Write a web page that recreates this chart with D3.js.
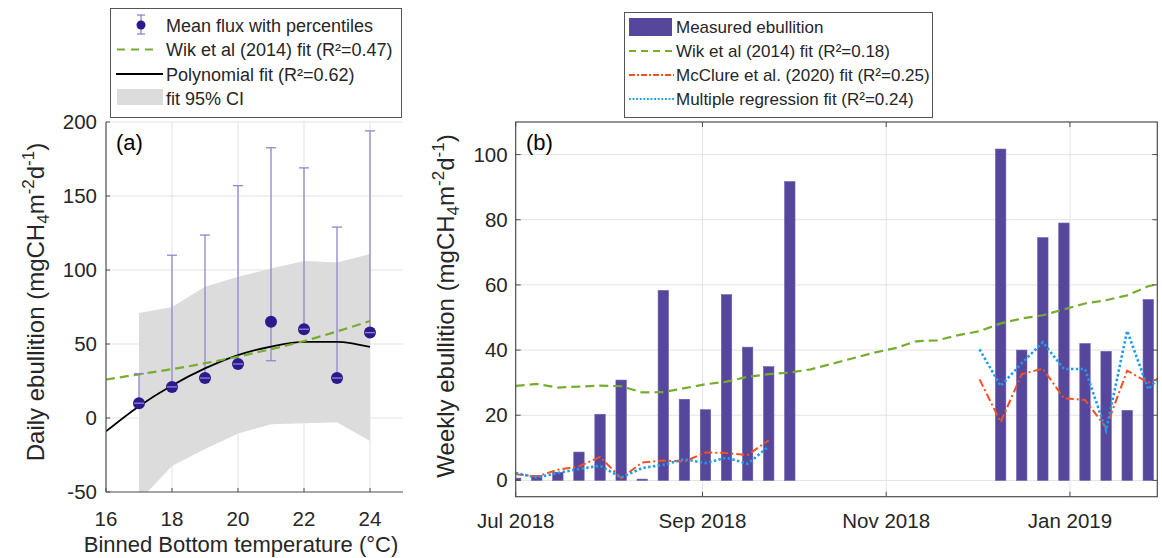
<!DOCTYPE html>
<html><head><meta charset="utf-8">
<script src="https://cdn.jsdelivr.net/npm/d3@7/dist/d3.min.js"></script>
<style>
body{margin:0;background:#fff;}
svg{display:block;font-family:"Liberation Sans",Arial,sans-serif;}
</style></head>
<body><svg id="c" width="1162" height="558"></svg>
<script>
// ---------- Panel (a) data ----------
const tempBins = [17, 18, 19, 20, 21, 22, 23, 24];
const meanFlux = [10, 21, 27, 36.5, 65, 60, 27, 57.7];
const pctLow   = [10, 21, 27, 36.5, 38.7, 60, 27, 57.7];
const pctHigh  = [30, 110, 123.6, 157, 182.6, 169, 129, 194];
const ciUpper  = [71, 75, 88.7, 95.5, 101, 106, 105, 110.8];
const ciLower  = [-56, -32.5, -21, -10.4, -4.3, -3.6, -2.9, -15.6];
const fitTemps = [16, 17, 18, 19, 20, 21, 22, 23, 24];
const polyFit  = [-9, 8, 22, 33.5, 42.5, 48.3, 51.5, 51.5, 48];
const wikFitA  = [26, 29.5, 33, 37, 41.5, 46.5, 52, 58.5, 65.5];
const xTicksA  = [16, 18, 20, 22, 24];
const yTicksA  = [-50, 0, 50, 100, 150, 200];

// ---------- Panel (b) data ----------
const barDates = ["2018-07-01","2018-07-08","2018-07-15","2018-07-22","2018-07-29","2018-08-05","2018-08-12",
  "2018-08-19","2018-08-26","2018-09-02","2018-09-09","2018-09-16","2018-09-23","2018-09-30",
  "2018-12-09","2018-12-16","2018-12-23","2018-12-30","2019-01-06","2019-01-13","2019-01-20","2019-01-27"];
const barValues = [0.7, 1.5, 2.5, 8.7, 20.3, 30.8, 0.4, 58.3, 24.9, 21.7, 57, 40.9, 34.9, 91.7,
  101.7, 40, 74.5, 79, 42, 39.6, 21.5, 55.5];
const wikDates = ["2018-07-01","2018-07-08","2018-07-15","2018-07-22","2018-07-29","2018-08-05","2018-08-12",
  "2018-08-19","2018-08-26","2018-09-02","2018-09-09","2018-09-16","2018-09-23","2018-09-30","2018-10-07",
  "2018-10-14","2018-10-21","2018-10-28","2018-11-04","2018-11-11","2018-11-18","2018-11-25","2018-12-02",
  "2018-12-09","2018-12-16","2018-12-23","2018-12-30","2019-01-06","2019-01-13","2019-01-20","2019-01-27","2019-02-03"];
const wikValuesB = [29.0, 29.6, 28.5, 28.8, 29.1, 28.9, 27.0, 27.1, 28.3, 29.5, 30.3, 31.8, 32.6, 33.1, 34.1,
  35.8, 37.5, 39.2, 40.6, 42.7, 43.0, 44.6, 45.8, 48.2, 49.7, 50.7, 52.5, 54.3, 55.3, 56.8, 59.6, 61];
const modelDates1 = ["2018-07-01","2018-07-08","2018-07-15","2018-07-22","2018-07-29","2018-08-05","2018-08-12",
  "2018-08-19","2018-08-26","2018-09-02","2018-09-09","2018-09-16","2018-09-23"];
const mcclure1 = [1.9, 1.2, 3.3, 4.3, 7.2, 0.7, 5.5, 6.1, 5.8, 8.6, 8.4, 7.8, 12.3];
const multreg1 = [2.3, 0.9, 2.3, 3.5, 4.5, 0.9, 3.8, 4.8, 6.5, 5.3, 7.0, 5.1, 10.4];
const modelDates2 = ["2018-12-02","2018-12-09","2018-12-16","2018-12-23","2018-12-30","2019-01-06",
  "2019-01-13","2019-01-20","2019-01-27","2019-02-03"];
const mcclure2 = [31.0, 17.9, 32.6, 34.3, 25.2, 24.7, 16.2, 33.7, 30.0, 32.6];
const multreg2 = [40.2, 29.0, 36.0, 42.4, 34.2, 34.2, 15.3, 45.9, 28.0, 35];
const xTickDatesB = ["2018-07-01","2018-09-01","2018-11-01","2019-01-01"];
const xTickLabelsB = ["Jul 2018","Sep 2018","Nov 2018","Jan 2019"];
const yTicksB = [0, 20, 40, 60, 80, 100];

// ---------- styling ----------
const C = {text:"#262626", axis:"#4d4d4d", grid:"#e3e3e3", band:"#dcdcdc",
  marker:"#2b1a8e", err:"#8f86cc", green:"#77ac30", orange:"#f4511e", blue:"#1e9bf0", bar:"#56479c"};
const svg = d3.select("#c");
const parse = d3.utcParse("%Y-%m-%d");

// ======= Panel (a) =======
const xa = d3.scaleLinear().domain([16, 25]).range([106, 403]);
const ya = d3.scaleLinear().domain([-50, 200]).range([492, 122]);
const ga = svg.append("g");
ga.append("clipPath").attr("id","clipA").append("rect")
  .attr("x",xa(16)).attr("y",ya(200)).attr("width",xa(25)-xa(16)).attr("height",ya(-50)-ya(200));
ga.append("g").selectAll("line").data(xTicksA.filter(d=>d>16)).join("line")
  .attr("x1",d=>xa(d)).attr("x2",d=>xa(d)).attr("y1",ya(200)).attr("y2",ya(-50))
  .attr("stroke",C.grid).attr("stroke-width",1);
ga.append("g").selectAll("line").data(yTicksA.filter(d=>d>-50)).join("line")
  .attr("x1",xa(16)).attr("x2",xa(25)).attr("y1",d=>ya(d)).attr("y2",d=>ya(d))
  .attr("stroke",C.grid).attr("stroke-width",1);
const pa = ga.append("g").attr("clip-path","url(#clipA)");
const band = tempBins.map((t,i)=>({t, lo:ciLower[i], hi:ciUpper[i]}));
pa.append("path").datum(band)
  .attr("d", d3.area().x(d=>xa(d.t)).y0(d=>ya(d.lo)).y1(d=>ya(d.hi)))
  .attr("fill",C.band);
pa.append("g").selectAll("line").data(tempBins).join("line")
  .attr("x1",d=>xa(d)).attr("x2",d=>xa(d))
  .attr("y1",(d,i)=>ya(pctLow[i])).attr("y2",(d,i)=>ya(pctHigh[i]))
  .attr("stroke",C.err).attr("stroke-width",1.3);
pa.append("path").datum(fitTemps.map((t,i)=>[t, polyFit[i]]))
  .attr("d", d3.line().x(d=>xa(d[0])).y(d=>ya(d[1])).curve(d3.curveMonotoneX))
  .attr("fill","none").attr("stroke","#000").attr("stroke-width",1.8);
pa.append("path").datum(fitTemps.map((t,i)=>[t, wikFitA[i]]))
  .attr("d", d3.line().x(d=>xa(d[0])).y(d=>ya(d[1])).curve(d3.curveMonotoneX))
  .attr("fill","none").attr("stroke",C.green).attr("stroke-width",2.2).attr("stroke-dasharray","9,5");
pa.append("g").selectAll("circle").data(tempBins).join("circle")
  .attr("cx",d=>xa(d)).attr("cy",(d,i)=>ya(meanFlux[i])).attr("r",6)
  .attr("fill",C.marker);
const caps = [];
tempBins.forEach((t,i)=>{caps.push([t,pctLow[i]]); caps.push([t,pctHigh[i]]);});
pa.append("g").selectAll("line").data(caps).join("line")
  .attr("x1",d=>xa(d[0])-5).attr("x2",d=>xa(d[0])+5)
  .attr("y1",d=>ya(d[1])).attr("y2",d=>ya(d[1]))
  .attr("stroke",C.err).attr("stroke-width",1.3);
ga.append("line").attr("x1",xa(16)).attr("x2",xa(16)).attr("y1",ya(200)).attr("y2",ya(-50)).attr("stroke",C.axis).attr("stroke-width",1.2);
ga.append("line").attr("x1",xa(16)).attr("x2",xa(25)).attr("y1",ya(-50)).attr("y2",ya(-50)).attr("stroke",C.axis).attr("stroke-width",1.2);
ga.append("g").selectAll("line").data(yTicksA).join("line")
  .attr("x1",xa(16)).attr("x2",xa(16)+4).attr("y1",d=>ya(d)).attr("y2",d=>ya(d)).attr("stroke",C.axis);
ga.append("g").selectAll("line").data(xTicksA).join("line")
  .attr("x1",d=>xa(d)).attr("x2",d=>xa(d)).attr("y1",ya(-50)).attr("y2",ya(-50)-4).attr("stroke",C.axis);
ga.append("g").selectAll("text").data(yTicksA).join("text")
  .attr("x",xa(16)-9).attr("y",d=>ya(d)+7).attr("text-anchor","end")
  .attr("font-size",20.5).attr("fill",C.text).text(d=>d);
ga.append("g").selectAll("text").data(xTicksA).join("text")
  .attr("x",d=>xa(d)).attr("y",526).attr("text-anchor","middle")
  .attr("font-size",20.5).attr("fill",C.text).text(d=>d);
ga.append("text").attr("x",116).attr("y",150).attr("font-size",22).attr("fill","#000").text("(a)");
ga.append("text").attr("x",241).attr("y",552).attr("text-anchor","middle")
  .attr("font-size",22).attr("fill",C.text).text("Binned Bottom temperature (°C)");

function unitLabel(g, x, y, prefix){
  const t = g.append("text").attr("transform",`translate(${x},${y}) rotate(-90)`)
    .attr("text-anchor","middle").attr("font-size",24).attr("fill",C.text);
  t.append("tspan").text(prefix + " (mgCH");
  t.append("tspan").attr("font-size",17).attr("dy",5).text("4");
  t.append("tspan").attr("dy",-5).text("m");
  t.append("tspan").attr("font-size",17).attr("dy",-10).text("-2");
  t.append("tspan").attr("dy",10).text("d");
  t.append("tspan").attr("font-size",17).attr("dy",-10).text("-1");
  t.append("tspan").attr("dy",10).text(")");
}
unitLabel(ga, 44, 302, "Daily ebullition");

// legend (a)
const la = svg.append("g");
la.append("rect").attr("x",110.5).attr("y",8.5).attr("width",291).attr("height",109)
  .attr("fill","#fff").attr("stroke","#555").attr("stroke-width",1);
const legA = ["Mean flux with percentiles","Wik et al (2014) fit (R²=0.47)","Polynomial fit (R²=0.62)","fit 95% CI"];
const rowA = [25, 49.5, 74, 98];
la.selectAll("text").data(legA).join("text")
  .attr("x",166).attr("y",(d,i)=>rowA[i]+6.5).attr("font-size",18).attr("fill",C.text).text(d=>d);
la.append("line").attr("x1",141).attr("x2",141).attr("y1",rowA[0]-10).attr("y2",rowA[0]+9).attr("stroke",C.err).attr("stroke-width",1.3);
la.append("line").attr("x1",137).attr("x2",145).attr("y1",rowA[0]-10).attr("y2",rowA[0]-10).attr("stroke",C.err).attr("stroke-width",1.3);
la.append("line").attr("x1",137).attr("x2",145).attr("y1",rowA[0]+9).attr("y2",rowA[0]+9).attr("stroke",C.err).attr("stroke-width",1.3);
la.append("circle").attr("cx",141).attr("cy",rowA[0]).attr("r",4.5).attr("fill",C.marker);
la.append("line").attr("x1",117).attr("x2",158).attr("y1",rowA[1]).attr("y2",rowA[1])
  .attr("stroke",C.green).attr("stroke-width",2.2).attr("stroke-dasharray","8,6");
la.append("line").attr("x1",116).attr("x2",163).attr("y1",rowA[2]).attr("y2",rowA[2])
  .attr("stroke","#000").attr("stroke-width",1.8);
la.append("rect").attr("x",117).attr("y",rowA[3]-9).attr("width",46).attr("height",16).attr("fill",C.band);

// ======= Panel (b) =======
const xb = d3.scaleUtc().domain([parse("2018-07-01"), parse("2019-01-30")]).range([515.7, 1157.3]);
const yb = d3.scaleLinear().domain([-5, 110]).range([496.7, 122]);
const gb = svg.append("g");
gb.append("clipPath").attr("id","clipB").append("rect")
  .attr("x",xb.range()[0]).attr("y",yb(110)).attr("width",xb.range()[1]-xb.range()[0]).attr("height",yb(-5)-yb(110));
const xtd = xTickDatesB.map(parse);
gb.append("g").selectAll("line").data(xtd.slice(1)).join("line")
  .attr("x1",d=>xb(d)).attr("x2",d=>xb(d)).attr("y1",yb(110)).attr("y2",yb(-5))
  .attr("stroke",C.grid);
gb.append("g").selectAll("line").data(yTicksB).join("line")
  .attr("x1",xb.range()[0]).attr("x2",xb.range()[1]).attr("y1",d=>yb(d)).attr("y2",d=>yb(d))
  .attr("stroke",C.grid);
const pb = gb.append("g").attr("clip-path","url(#clipB)");
const halfW = (xb(parse("2018-07-04")) - xb(parse("2018-07-01"))) * 0.575;
pb.append("g").selectAll("rect").data(barDates.map((d,i)=>({d:parse(d), v:barValues[i]}))).join("rect")
  .attr("x",d=>xb(d.d)-halfW).attr("width",halfW*2)
  .attr("y",d=>yb(d.v)).attr("height",d=>yb(0)-yb(d.v))
  .attr("fill",C.bar).attr("stroke","#6a5cae").attr("stroke-width",0.6);
const lineB = d3.line().x(d=>xb(d[0])).y(d=>yb(d[1]));
pb.append("path").datum(wikDates.map((d,i)=>[parse(d), wikValuesB[i]]))
  .attr("d",lineB).attr("fill","none").attr("stroke",C.green).attr("stroke-width",2.2).attr("stroke-dasharray","9,5");
[[modelDates1,mcclure1],[modelDates2,mcclure2]].forEach(([ds,vs])=>{
  pb.append("path").datum(ds.map((d,i)=>[parse(d), vs[i]]))
    .attr("d",lineB).attr("fill","none").attr("stroke",C.orange).attr("stroke-width",2)
    .attr("stroke-dasharray","8,3,2,3");
});
[[modelDates1,multreg1],[modelDates2,multreg2]].forEach(([ds,vs])=>{
  pb.append("path").datum(ds.map((d,i)=>[parse(d), vs[i]]))
    .attr("d",lineB).attr("fill","none").attr("stroke",C.blue).attr("stroke-width",2.6)
    .attr("stroke-dasharray","2.4,2.4");
});
gb.append("rect").attr("x",xb.range()[0]).attr("y",yb(110)).attr("width",xb.range()[1]-xb.range()[0])
  .attr("height",yb(-5)-yb(110)).attr("fill","none").attr("stroke",C.axis).attr("stroke-width",1.2);
gb.append("g").selectAll("line").data(xtd).join("line")
  .attr("x1",d=>xb(d)).attr("x2",d=>xb(d)).attr("y1",yb(-5)).attr("y2",yb(-5)-5).attr("stroke",C.axis);
gb.append("g").selectAll("line").data(xtd).join("line")
  .attr("x1",d=>xb(d)).attr("x2",d=>xb(d)).attr("y1",yb(110)).attr("y2",yb(110)+5).attr("stroke",C.axis);
gb.append("g").selectAll("line").data(yTicksB).join("line")
  .attr("x1",xb.range()[0]).attr("x2",xb.range()[0]+5).attr("y1",d=>yb(d)).attr("y2",d=>yb(d)).attr("stroke",C.axis);
gb.append("g").selectAll("line").data(yTicksB).join("line")
  .attr("x1",xb.range()[1]).attr("x2",xb.range()[1]-5).attr("y1",d=>yb(d)).attr("y2",d=>yb(d)).attr("stroke",C.axis);
gb.append("g").selectAll("text").data(yTicksB).join("text")
  .attr("x",xb.range()[0]-8).attr("y",d=>yb(d)+7).attr("text-anchor","end")
  .attr("font-size",20.5).attr("fill",C.text).text(d=>d);
gb.append("g").selectAll("text").data(xtd).join("text")
  .attr("x",d=>xb(d)).attr("y",528).attr("text-anchor","middle")
  .attr("font-size",20.5).attr("fill",C.text).text((d,i)=>xTickLabelsB[i]);
gb.append("text").attr("x",526).attr("y",150).attr("font-size",22).attr("fill","#000").text("(b)");
unitLabel(gb, 454, 306, "Weekly ebullition");

// legend (b)
const lb = svg.append("g");
lb.append("rect").attr("x",624.5).attr("y",12.5).attr("width",308).attr("height",105)
  .attr("fill","#fff").attr("stroke","#555").attr("stroke-width",1);
const legB = ["Measured ebullition","Wik et al (2014) fit (R²=0.18)","McClure et al. (2020) fit (R²=0.25)","Multiple regression fit (R²=0.24)"];
const rowB = [27, 51, 75, 99];
lb.selectAll("text").data(legB).join("text")
  .attr("x",676).attr("y",(d,i)=>rowB[i]+6).attr("font-size",17).attr("fill",C.text).text(d=>d);
lb.append("rect").attr("x",629).attr("y",rowB[0]-9).attr("width",43).attr("height",18).attr("fill",C.bar);
lb.append("line").attr("x1",629).attr("x2",674).attr("y1",rowB[1]).attr("y2",rowB[1])
  .attr("stroke",C.green).attr("stroke-width",2).attr("stroke-dasharray","7,5");
lb.append("line").attr("x1",629).attr("x2",674).attr("y1",rowB[2]).attr("y2",rowB[2])
  .attr("stroke",C.orange).attr("stroke-width",2).attr("stroke-dasharray","6,2,2,2");
lb.append("line").attr("x1",629).attr("x2",674).attr("y1",rowB[3]).attr("y2",rowB[3])
  .attr("stroke",C.blue).attr("stroke-width",2.2).attr("stroke-dasharray","1.8,1.8");
</script>
</body></html>
